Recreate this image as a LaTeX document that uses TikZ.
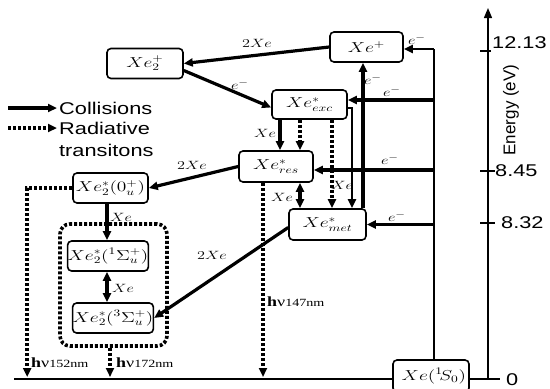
\documentclass[tikz,border=0pt]{standalone}
\usepackage{fontspec}
\setmainfont{Liberation Serif}
\newfontfamily\axfont{Liberation Sans}
\usepackage{graphicx}
\usetikzlibrary{arrows.meta,calc}
\newcommand{\stx}[1]{\scalebox{1.35}[1]{$#1$}}
\newcommand{\sts}[1]{\scalebox{1.28}[1]{#1}}
\tikzset{
  lvl/.style={draw, line width=1.6pt, rounded corners=4pt, inner sep=0pt, minimum height=30pt, font=\fontsize{14}{16}\selectfont},
  tip/.tip={Triangle[length=9pt,width=8pt]},
  coll/.style={line width=3.2pt, -tip},
  collb/.style={line width=3.2pt, tip-tip},
  feed/.style={line width=2.4pt},
  rad/.style={line width=3.6pt, dash pattern=on 3pt off 2pt, -tip},
  lab/.style={inner sep=0pt, font=\fontsize{13}{15}\selectfont},
  lgd/.style={inner sep=0pt, anchor=west, font=\axfont\fontsize{17}{19}\selectfont},
  hv/.style={inner sep=0pt, anchor=west, font=\fontsize{14}{16}\selectfont},
}
\begin{document}
\begin{tikzpicture}[x=1pt,y=-1pt]
\useasboundingbox (0,0) rectangle (550,389);
% levels
\node[lvl, minimum width=76pt] (xe2p) at (145,63.5) {\stx{Xe_2^+}};
\node[lvl, minimum width=73pt] (xep) at (366.5,47) {\stx{Xe^+}};
\node[lvl, minimum width=75pt, minimum height=29pt] (exc) at (309.5,104.5) {\stx{Xe^{*}_{exc}}};
\node[lvl, minimum width=74pt, minimum height=31pt] (res) at (276,166.5) {\stx{Xe^{*}_{res}}};
\node[lvl, minimum width=77pt, minimum height=31pt] (met) at (327.5,224.5) {\stx{Xe^{*}_{met}}};
\node[lvl, minimum width=75pt] (d0) at (110.5,188) {\stx{Xe_2^*(0_u^+)}};
\node[lvl, minimum width=70pt] (s1) at (108,256) {\stx{Xe_2^*({}^1\Sigma_u^+)}};
\node[lvl, minimum width=74pt] (s3) at (113,318) {\stx{Xe_2^*({}^3\Sigma_u^+)}};
\node[lvl, inner xsep=3pt, text width=70pt, align=right, minimum height=32pt] (gnd) at (431,376) {\stx{Xe({}^1\!S_0)}};
\node[draw, line width=3.6pt, dash pattern=on 3pt off 2pt, rounded corners=10pt, minimum width=107pt, minimum height=122pt, inner sep=0pt] (grp) at (113.5,285) {};
% baseline
\coordinate (bl) at (14,379);
\coordinate (br) at (500,379);
\draw[line width=1.2pt] (bl) -- (bl -| gnd.west);
\draw[line width=1.2pt] (gnd.east |- br) -- (br);
% energy axis
\coordinate (ax0) at (488,379);
\coordinate (ax1) at (488,8);
\draw[line width=1.4pt, -{Triangle[length=10pt,width=8pt]}] (ax0) -- (ax1);
\coordinate (t1) at (488,51);
\coordinate (t2) at (488,171);
\coordinate (t3) at (488,223);
\draw[line width=1.2pt] ($(t1)+(-8,0)$) -- ($(t1)+(3,0)$);
\draw[line width=1.2pt] ($(t2)+(-8,0)$) -- ($(t2)+(7,0)$);
\draw[line width=1.2pt] ($(t3)+(-8,0)$) -- ($(t3)+(7,0)$);
\node[lgd] (v1) at (492,43) {\sts{12.13}};
\node[lgd] (v2) at (495,171) {\sts{8.45}};
\node[lgd] (v3) at (501,223) {\sts{8.32}};
\node[lgd] (v0) at (506,380) {\sts{0}};
\node[inner sep=0pt, font=\axfont\fontsize{17}{19}\selectfont] (en) at (511,110) {\rotatebox{90}{Energy (eV)}};
% legend
\coordinate (la) at (8,108);
\coordinate (lb) at (57,108);
\coordinate (lc) at (8,128);
\coordinate (ld) at (57,128);
\draw[coll] (la) -- (lb);
\draw[rad] (lc) -- (ld);
\node[lgd] (lg1) at (59,108) {\sts{Collisions}};
\node[lgd] (lg2) at (59,128) {\sts{Radiative}};
\node[lgd] (lg3) at (59,150) {\sts{transitons}};
% collisions
\draw[coll] (xep.west) -- (xe2p.east);
\draw[coll] ($(xe2p.east)+(0,7)$) -- ($(exc.west)+(0,3)$);
\draw[coll] (res.west) -- (d0.east);
\draw[coll] ($(met.west)+(0,3)$) -- (s3.east);
\draw[coll] ($(exc.south)+(-29.5,0)$) -- ($(res.north)+(4,0)$);
\draw[line width=2.4pt, -tip] ($(exc.east)+(0,3.5)$) -| ($(met.north)+(24.5,0)$);
\draw[coll] ($(met.north)+(35.5,0)$) -- ($(xep.south)+(-3.5,0)$);
\draw[collb] ($(res.south)+(24,0)$) -- ($(met.north)+(-27.5,0)$);
\draw[coll] ($(d0.south)+(-3.5,0)$) -- ($(s1.north)+(-1,0)$);
\draw[collb] ($(s1.south)+(-1,0)$) -- ($(s3.north)+(-6,0)$);
% electron feed
\coordinate (fa) at (434,49);
\draw[feed] ($(gnd.north)+(3,0)$) -- (fa);
\draw[feed, -tip] (fa) -- (fa -| xep.east);
\coordinate (fb) at (434,100);
\coordinate (fc) at (434,170);
\coordinate (fd) at (434,224.5);
\draw[coll] (fb) -- (fb -| exc.east);
\draw[coll] (fc) -- (fc -| res.east);
\draw[coll] (fd) -- (fd -| met.east);
% radiative
\draw[rad] ($(exc.south)+(-9.5,0)$) -- ($(res.north)+(24,0)$);
\draw[rad] ($(exc.south)+(22.5,0)$) -- ($(met.north)+(4.5,0)$);
\coordinate (r1) at ($(res.south)+(-13,0)$);
\coordinate (r2) at ($(d0.west)+(-45,0)$);
\coordinate (r3) at ($(grp.south)+(-3.5,0)$);
\draw[rad, shorten >=2pt] (r1) -- (r1 |- bl);
\draw[rad, shorten >=2pt] (d0.west) -- (r2) -- (r2 |- bl);
\draw[rad, shorten >=2pt] (r3) -- (r3 |- bl);
% labels
\node[lab] (l1) at (257,43) {\stx{2Xe}};
\node[lab] (l2) at (240,85) {\stx{e^-}};
\node[lab] (l3) at (417,40) {\stx{e^-}};
\node[lab] (l4) at (392,92) {\stx{e^-}};
\node[lab] (l5) at (390,160) {\stx{e^-}};
\node[lab] (l6) at (397,217) {\stx{e^-}};
\node[lab] (l7) at (373,80) {\stx{e^-}};
\node[lab] (l8) at (265,133) {\stx{Xe}};
\node[lab] (l9) at (342,185) {\stx{Xe}};
\node[lab] (l10) at (282,197) {\stx{Xe}};
\node[lab] (l11) at (192,165) {\stx{2Xe}};
\node[lab] (l12) at (212,255) {\stx{2Xe}};
\node[lab] (l13) at (121,217) {\stx{Xe}};
\node[lab] (l14) at (123,288) {\stx{Xe}};
\node[hv] (h1) at (267,302) {\sts{\textbf{h}ν{\fontsize{11}{12}\selectfont 147nm}}};
\node[hv] (h2) at (31,363) {\sts{\textbf{h}ν{\fontsize{11}{12}\selectfont 152nm}}};
\node[hv] (h3) at (116,363) {\sts{\textbf{h}ν{\fontsize{11}{12}\selectfont 172nm}}};
\end{tikzpicture}
\end{document}
